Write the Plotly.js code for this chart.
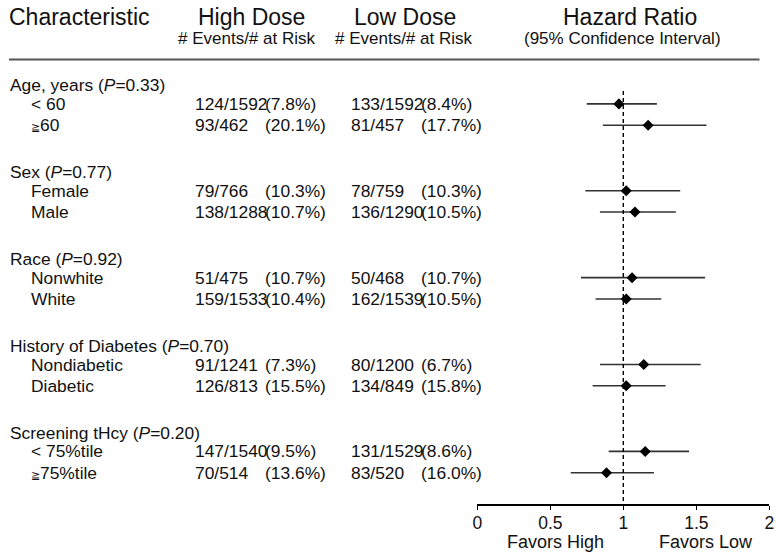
<!DOCTYPE html>
<html>
<head>
<meta charset="utf-8">
<script src="https://cdn.plot.ly/plotly-3.0.1.min.js"></script>
<style>
  html, body { margin: 0; padding: 0; background: #fff; }
  #chart { width: 776px; height: 554px; }
</style>
</head>
<body>
<div id="chart"></div>
<script>
// ---------------- data ----------------
const groups = ['Age, years', 'Sex', 'Race', 'History of Diabetes', 'Screening tHcy'];
const groupP = ['0.33', '0.77', '0.92', '0.70', '0.20'];
const subgroups = ['< 60', '≧60', 'Female', 'Male', 'Nonwhite', 'White', 'Nondiabetic', 'Diabetic', '< 75%tile', '≧75%tile'];
const highEvents = [124, 93, 79, 138, 51, 159, 91, 126, 147, 70];
const highRisk   = [1592, 462, 766, 1288, 475, 1533, 1241, 813, 1540, 514];
const highPct    = ['7.8', '20.1', '10.3', '10.7', '10.7', '10.4', '7.3', '15.5', '9.5', '13.6'];
const lowEvents  = [133, 81, 78, 136, 50, 162, 80, 134, 131, 83];
const lowRisk    = [1592, 457, 759, 1290, 468, 1539, 1200, 849, 1529, 520];
const lowPct     = ['8.4', '17.7', '10.3', '10.5', '10.7', '10.5', '6.7', '15.8', '8.6', '16.0'];
const hazardRatio = [0.97, 1.17, 1.02, 1.08, 1.06, 1.02, 1.14, 1.02, 1.15, 0.885];
const ciLow       = [0.75, 0.86, 0.74, 0.84, 0.71, 0.81, 0.84, 0.79, 0.90, 0.64];
const ciHigh      = [1.23, 1.57, 1.39, 1.36, 1.56, 1.26, 1.53, 1.29, 1.45, 1.21];
const xTicks = [0, 0.5, 1, 1.5, 2];
const xTickLabels = ['0', '0.5', '1', '1.5', '2'];
const nullHR = 1;

// ---------------- layout helpers ----------------
const W = 776, H = 554;
const PLOT_BOTTOM = 504;            // px of axis line
const ROW0 = 85, STEP = 21.72;      // px of first group header, px per row unit
const yTop = -ROW0 / STEP;
const yBottom = (PLOT_BOTTOM - ROW0) / STEP;
const subOffsets = [0.87, 1.85];
const FONT = '"Liberation Sans", Arial, Helvetica, sans-serif';
const INK = '#111';
const BODY = 17.4;

function groupY(g) { return 4 * g; }
function rowY(i) { const g = Math.floor(i / 2); return 4 * g + subOffsets[i % 2]; }
function px(x) { return x / W; }
function pyPaper(p) { return 1 - p / PLOT_BOTTOM; }

const ann = [];
function txt(xPx, y, text, size, xanchor, yref) {
  ann.push({
    xref: 'paper', yref: yref || 'y', x: px(xPx), y: y,
    xanchor: xanchor || 'left', yanchor: 'middle',
    text: text, showarrow: false, borderpad: 0,
    font: { family: FONT, size: size, color: INK }
  });
}

// headers
txt(8, pyPaper(17), 'Characteristic', 23, 'left', 'paper');
txt(251, pyPaper(17), 'High Dose', 23, 'center', 'paper');
txt(404.5, pyPaper(17), 'Low Dose', 23, 'center', 'paper');
txt(630, pyPaper(17), 'Hazard Ratio', 23, 'center', 'paper');
txt(247.5, pyPaper(38.5), '# Events/# at Risk', 17, 'center', 'paper');
txt(403.5, pyPaper(38.5), '# Events/# at Risk', 17, 'center', 'paper');
txt(622, pyPaper(38.5), '(95% Confidence Interval)', 17, 'center', 'paper');

// group headers
groups.forEach((g, k) => {
  txt(8.5, groupY(k), g + ' (<i>P</i>=' + groupP[k] + ')', BODY, 'left');
});

// subgroup rows
function fmtLabel(s) {
  return s.replace('≧', '<span style="font-size:11px">≧</span>');
}
subgroups.forEach((s, i) => {
  const y = rowY(i);
  txt(29.5, y, fmtLabel(s), BODY, 'left');
  txt(193.5, y, highEvents[i] + '/' + highRisk[i], BODY, 'left');
  txt(263.5, y, '(' + highPct[i] + '%)', BODY, 'left');
  txt(349.5, y, lowEvents[i] + '/' + lowRisk[i], BODY, 'left');
  txt(419.5, y, '(' + lowPct[i] + '%)', BODY, 'left');
});

// favors labels
txt(555, pyPaper(542), 'Favors High', 18, 'center', 'paper');
txt(705.5, pyPaper(542), 'Favors Low', 18, 'center', 'paper');

// ---------------- traces ----------------
const ciX = [], ciY = [];
subgroups.forEach((s, i) => {
  ciX.push(ciLow[i], ciHigh[i], null);
  ciY.push(rowY(i), rowY(i), null);
});

const traces = [
  {
    type: 'scatter', mode: 'lines', x: ciX, y: ciY,
    line: { color: '#333', width: 1.6 }, hoverinfo: 'skip', showlegend: false
  },
  {
    type: 'scatter', mode: 'markers', x: hazardRatio, y: subgroups.map((s, i) => rowY(i)),
    marker: { symbol: 'diamond', size: 8.5, color: '#000', line: { width: 0 } },
    showlegend: false
  }
];

const layout = {
  width: W, height: H,
  margin: { l: 0, r: 0, t: 0, b: H - PLOT_BOTTOM, pad: 0 },
  paper_bgcolor: '#fff', plot_bgcolor: '#fff',
  showlegend: false,
  xaxis: {
    domain: [px(477.3), px(769.3)],
    range: [0, 2],
    showgrid: false, zeroline: false,
    showline: true, linecolor: '#000', linewidth: 1.5,
    ticks: 'outside', ticklen: 4, tickwidth: 1.3, tickcolor: '#000',
    ticklabelstandoff: -2,
    tickvals: xTicks, ticktext: xTickLabels,
    tickfont: { family: FONT, size: 17.5, color: INK },
    fixedrange: true
  },
  yaxis: {
    range: [yBottom, yTop],
    visible: false, showgrid: false, zeroline: false, fixedrange: true
  },
  shapes: [
    {
      type: 'line', xref: 'paper', yref: 'paper',
      x0: px(9), x1: px(759.5), y0: pyPaper(59.5), y1: pyPaper(59.5),
      line: { color: '#555', width: 2 }
    },
    {
      type: 'line', xref: 'x', yref: 'y',
      x0: nullHR, x1: nullHR, y0: (91 - ROW0) / STEP, y1: yBottom,
      line: { color: '#000', width: 1.4, dash: '4px,3px' }
    }
  ],
  annotations: ann,
  font: { family: FONT, color: INK }
};

Plotly.newPlot('chart', traces, layout, { displayModeBar: false, staticPlot: true });
</script>
</body>
</html>
